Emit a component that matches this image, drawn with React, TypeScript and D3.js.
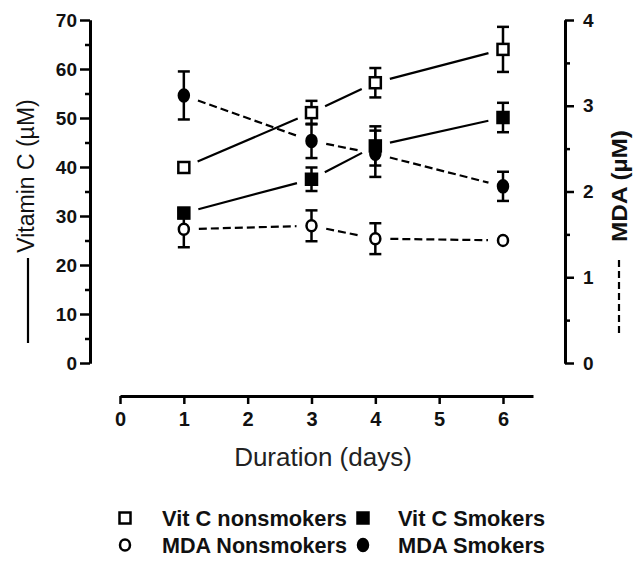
import React, { useRef, useEffect } from 'react';
import * as d3 from 'd3';

// days sampled
const days = [1, 3, 4, 6];

// vitamin C (µM), left axis
const vitCNonsmokers = [39.9, 51.1, 57.2, 64.0];
const vitCNonsmokersErr = [1.0, 2.4, 3.0, 4.6];
const vitCSmokers = [30.6, 37.5, 44.3, 50.1];
const vitCSmokersErr = [1.0, 2.4, 4.0, 3.0];

// MDA (µM), right axis
const mdaNonsmokers = [1.56, 1.6, 1.45, 1.43];
const mdaNonsmokersErr = [0.21, 0.18, 0.18, 0.0];
const mdaSmokers = [3.12, 2.59, 2.44, 2.06];
const mdaSmokersErr = [0.28, 0.2, 0.27, 0.17];

const xTicks = [0, 1, 2, 3, 4, 5, 6];
const leftTicks = [0, 10, 20, 30, 40, 50, 60, 70];
const leftMinor = [5, 15, 25, 35, 45, 55, 65];
const rightTicks = [0, 1, 2, 3, 4];
const rightMinor = [0.5, 1.5, 2.5, 3.5];

const legendLabels = ['Vit C nonsmokers', 'Vit C Smokers', 'MDA Nonsmokers', 'MDA Smokers'];

const FONT = "'Liberation Sans', Arial, sans-serif";

function App() {
  const svgRef = useRef<SVGSVGElement>(null);

  useEffect(() => {
    const w = 633;
    const h = 565;

    const svg = d3.select(svgRef.current)
      .attr('width', w)
      .attr('height', h)
      .style('background', '#fff');
    svg.selectAll('*').remove();

    // scales (x axis line runs a bit past 6)
    const x = d3.scaleLinear().domain([0, 6.47]).range([120, 533]);
    const yL = d3.scaleLinear().domain([0, 70]).range([363, 20]);
    const yR = d3.scaleLinear().domain([0, 4]).range([363, 20]);

    const styleAxis = (g: any, size: number) => {
      g.select('.domain').attr('stroke', '#000').attr('stroke-width', 3);
      g.selectAll('.tick line').attr('stroke', '#000').attr('stroke-width', 2.5);
      g.selectAll('.tick text')
        .attr('fill', '#111')
        .style('font-family', FONT)
        .style('font-weight', 'bold')
        .style('font-size', size + 'px');
    };

    // left axis
    svg.append('g')
      .attr('transform', 'translate(90,0)')
      .call(d3.axisLeft(yL).tickValues(leftMinor).tickSize(5).tickSizeOuter(0).tickFormat(() => ''))
      .call((g: any) => styleAxis(g, 19));
    svg.append('g')
      .attr('transform', 'translate(90,0)')
      .call(d3.axisLeft(yL).tickValues(leftTicks).tickSize(10).tickSizeOuter(0).tickPadding(3))
      .call((g: any) => styleAxis(g, 19));

    // right axis
    svg.append('g')
      .attr('transform', 'translate(565,0)')
      .call(d3.axisRight(yR).tickValues(rightMinor).tickSize(5).tickSizeOuter(0).tickFormat(() => ''))
      .call((g: any) => styleAxis(g, 19));
    svg.append('g')
      .attr('transform', 'translate(565,0)')
      .call(d3.axisRight(yR).tickValues(rightTicks).tickSize(9).tickSizeOuter(0).tickPadding(9).tickFormat(d3.format('d')))
      .call((g: any) => styleAxis(g, 19));

    // x axis
    svg.append('g')
      .attr('transform', 'translate(0,396)')
      .call(d3.axisBottom(x).tickValues(xTicks).tickSize(8).tickSizeOuter(0).tickPadding(8).tickFormat(d3.format('d')))
      .call((g: any) => styleAxis(g, 20));

    // axis titles
    svg.append('text')
      .attr('transform', 'translate(34,176) rotate(-90)')
      .attr('text-anchor', 'middle')
      .style('font-family', FONT)
      .style('font-size', '23px')
      .attr('fill', '#111')
      .text('Vitamin C (µM)');
    svg.append('line')
      .attr('x1', 28).attr('x2', 28)
      .attr('y1', 343).attr('y2', 258)
      .attr('stroke', '#000').attr('stroke-width', 2.2);

    svg.append('text')
      .attr('transform', 'translate(627,186) rotate(-90)')
      .attr('text-anchor', 'middle')
      .attr('textLength', 112)
      .attr('lengthAdjust', 'spacingAndGlyphs')
      .style('font-family', FONT)
      .style('font-weight', 'bold')
      .style('font-size', '22px')
      .attr('fill', '#111')
      .text('MDA (µM)');
    svg.append('line')
      .attr('x1', 619).attr('x2', 619)
      .attr('y1', 333).attr('y2', 258)
      .attr('stroke', '#000').attr('stroke-width', 2.2)
      .attr('stroke-dasharray', '7,4');

    svg.append('text')
      .attr('x', 323).attr('y', 466)
      .attr('text-anchor', 'middle')
      .style('font-family', FONT)
      .style('font-size', '26px')
      .attr('fill', '#222')
      .text('Duration (days)');

    const series = [
      { vals: vitCNonsmokers, err: vitCNonsmokersErr, y: yL, shape: 'square', filled: false, dash: null },
      { vals: vitCSmokers, err: vitCSmokersErr, y: yL, shape: 'square', filled: true, dash: null },
      { vals: mdaNonsmokers, err: mdaNonsmokersErr, y: yR, shape: 'circle', filled: false, dash: '8,4' },
      { vals: mdaSmokers, err: mdaSmokersErr, y: yR, shape: 'circle', filled: true, dash: '8,4' },
    ];

    const gap = 15;
    const linesG = svg.append('g');
    series.forEach(s => {
      const pts = days.map((d, i) => [x(d), s.y(s.vals[i])]);
      for (let i = 0; i < pts.length - 1; i++) {
        const [x1, y1] = pts[i];
        const [x2, y2] = pts[i + 1];
        const len = Math.hypot(x2 - x1, y2 - y1);
        const ux = (x2 - x1) / len, uy = (y2 - y1) / len;
        linesG.append('line')
          .attr('x1', x1 + ux * gap).attr('y1', y1 + uy * gap)
          .attr('x2', x2 - ux * gap).attr('y2', y2 - uy * gap)
          .attr('stroke', '#000')
          .attr('stroke-width', 2.2)
          .attr('stroke-dasharray', s.dash);
      }
    });

    // error bars
    const errG = svg.append('g').attr('stroke', '#000').attr('stroke-width', 2.5);
    series.forEach(s => {
      days.forEach((d, i) => {
        if (!s.err[i]) return;
        const cx = x(d);
        const top = s.y(s.vals[i] + s.err[i]);
        const bot = s.y(s.vals[i] - s.err[i]);
        errG.append('line').attr('x1', cx).attr('x2', cx).attr('y1', top).attr('y2', bot);
        errG.append('line').attr('x1', cx - 6).attr('x2', cx + 6).attr('y1', top).attr('y2', top);
        errG.append('line').attr('x1', cx - 6).attr('x2', cx + 6).attr('y1', bot).attr('y2', bot);
      });
    });

    const drawMarker = (g: any, shape: string, filled: boolean, cx: number, cy: number) => {
      if (shape === 'square') {
        g.append('rect')
          .attr('x', cx - 5.5).attr('y', cy - 5.5)
          .attr('width', 11).attr('height', 11)
          .attr('fill', filled ? '#000' : '#fff')
          .attr('stroke', '#000').attr('stroke-width', 2.5);
      } else {
        g.append('ellipse')
          .attr('cx', cx).attr('cy', cy)
          .attr('rx', 5).attr('ry', filled ? 6 : 5.5)
          .attr('fill', filled ? '#000' : '#fff')
          .attr('stroke', '#000').attr('stroke-width', 2.5);
      }
    };

    const markG = svg.append('g');
    series.forEach(s => {
      days.forEach((d, i) => drawMarker(markG, s.shape, s.filled, x(d), s.y(s.vals[i])));
    });

    // legend
    const legG = svg.append('g');
    const legendPos = [
      [125, 518, 162], [363, 518, 398],
      [125, 545, 162], [363, 545, 398],
    ];
    const legendWidths = [185, 147, 185, 147];
    series.forEach((s, i) => {
      const [mx, my, tx] = legendPos[i];
      drawMarker(legG, s.shape, s.filled, mx, my);
      legG.append('text')
        .attr('x', tx).attr('y', my + 8)
        .attr('textLength', legendWidths[i])
        .attr('lengthAdjust', 'spacingAndGlyphs')
        .style('font-family', FONT)
        .style('font-weight', 'bold')
        .style('font-size', '22px')
        .attr('fill', '#111')
        .text(legendLabels[i]);
    });
  }, []);

  return (
    <div>
      <svg ref={svgRef} style={{ display: 'block', position: 'absolute', left: 0, top: 0 }}></svg>
    </div>
  );
}

export default App;
